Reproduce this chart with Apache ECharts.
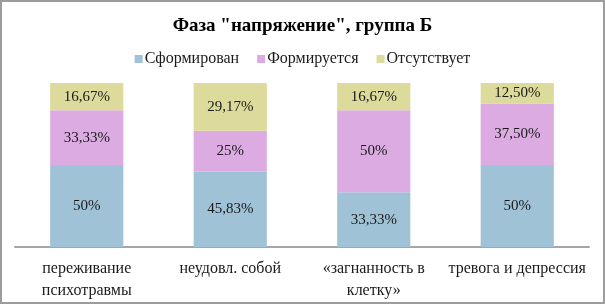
<!DOCTYPE html>
<html>
<head>
<meta charset="utf-8">
<script src="https://cdn.jsdelivr.net/npm/echarts@6/dist/echarts.min.js"></script>
<style>
  html, body { margin: 0; padding: 0; background: #fff; }
  #chart {
    width: 601px;
    height: 300px;
    border: 2px solid #9c9c9c;
  }
</style>
</head>
<body>
<div id="chart"></div>
<script>
  // chart data
  const categories = [
    "переживание\nпсихотравмы",
    "неудовл. собой",
    "«загнанность в\nклетку»",
    "тревога и депрессия"
  ];
  const seriesNames = ["Сформирован", "Формируется", "Отсутствует"];
  const formedValues = [50, 45.83, 33.33, 50];
  const formingValues = [33.33, 25, 50, 37.5];
  const absentValues = [16.67, 29.17, 16.67, 12.5];
  const formedLabels = ["50%", "45,83%", "33,33%", "50%"];
  const formingLabels = ["33,33%", "25%", "50%", "37,50%"];
  const absentLabels = ["16,67%", "29,17%", "16,67%", "12,50%"];

  const colors = ["#a0c2d7", "#dcabe2", "#dddb9c"];
  const font = "'Liberation Serif', 'Times New Roman', serif";

  const makeSeries = (name, data, labels, color) => ({
    name: name,
    type: "bar",
    stack: "total",
    barWidth: "51%",
    data: data,
    itemStyle: { color: color },
    label: {
      show: true,
      position: "inside",
      color: "#1a1a1a",
      fontFamily: font,
      fontSize: 15,
      formatter: p => labels[p.dataIndex]
    }
  });

  const chart = echarts.init(document.getElementById("chart"));
  chart.setOption({
    backgroundColor: "#fff",
    animation: false,
    title: {
      text: 'Фаза "напряжение", группа Б',
      left: "center",
      top: 10,
      textStyle: {
        fontFamily: font,
        fontWeight: "bold",
        fontSize: 19,
        color: "#000"
      }
    },
    legend: {
      data: seriesNames,
      top: 44,
      left: "center",
      itemWidth: 8,
      itemHeight: 8,
      itemGap: 18,
      icon: "rect",
      textStyle: {
        fontFamily: font,
        fontSize: 16,
        color: "#1a1a1a",
        padding: [0, 0, 0, -3]
      }
    },
    grid: {
      left: 13,
      right: 14,
      top: 81,
      bottom: 54,
      containLabel: false
    },
    xAxis: {
      type: "category",
      data: categories,
      axisLine: { lineStyle: { color: "#a6a6a6", width: 2 } },
      axisTick: { show: false },
      axisLabel: {
        fontFamily: font,
        fontSize: 16,
        color: "#1a1a1a",
        margin: 11,
        lineHeight: 22,
        interval: 0
      }
    },
    yAxis: {
      type: "value",
      min: 0,
      max: 100,
      show: false,
      splitLine: { show: false }
    },
    series: [
      makeSeries(seriesNames[0], formedValues, formedLabels, colors[0]),
      makeSeries(seriesNames[1], formingValues, formingLabels, colors[1]),
      makeSeries(seriesNames[2], absentValues, absentLabels, colors[2])
    ]
  });
</script>
</body>
</html>
